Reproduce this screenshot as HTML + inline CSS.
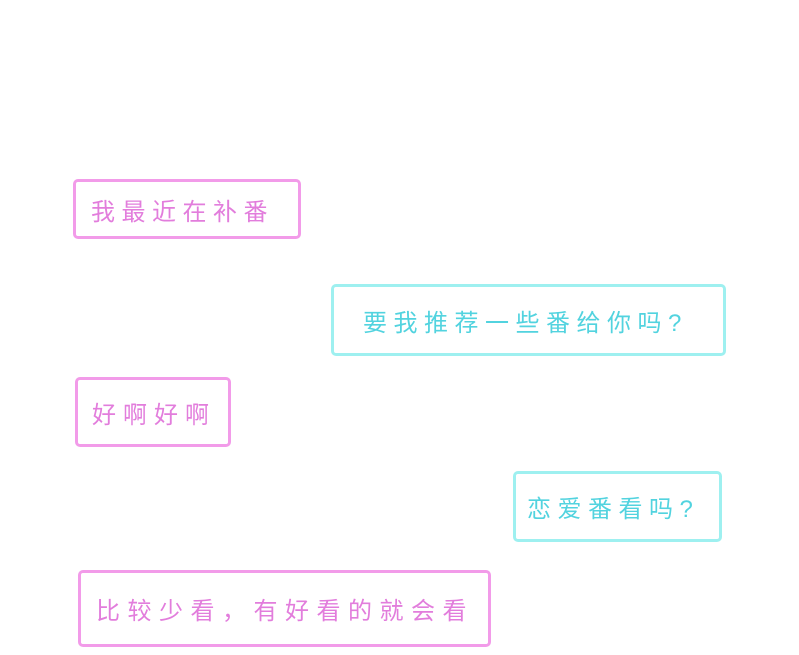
<!DOCTYPE html><html><head><meta charset="utf-8"><style>
body{margin:0;width:799px;height:655px;background:#fff;position:relative;overflow:hidden;font-family:"Liberation Sans","Noto Sans CJK SC",sans-serif}
.b{position:absolute;box-sizing:border-box;border-radius:5px;border:3px solid;display:flex;align-items:center;font-size:24px;white-space:nowrap}
.p{border-color:#f29be9;color:#e27ddc}
.c{border-color:#9ef0f0;color:#52d3df}
</style></head><body>
<div class="b p" style="left:73px;top:179px;width:228px;height:60px;padding-left:15px;letter-spacing:6.5px">我最近在补番</div>
<div class="b c" style="left:331px;top:284px;width:395px;height:72px;padding-left:29px;letter-spacing:6.5px">要我推荐一些番给你吗?</div>
<div class="b p" style="left:75px;top:377px;width:156px;height:70px;padding-left:14px;letter-spacing:7px">好啊好啊</div>
<div class="b c" style="left:513px;top:471px;width:209px;height:71px;padding-left:11px;letter-spacing:6.5px">恋爱番看吗?</div>
<div class="b p" style="left:78px;top:570px;width:413px;height:77px;padding-left:15px;letter-spacing:7.5px">比较少看，有好看的就会看</div>
</body></html>
